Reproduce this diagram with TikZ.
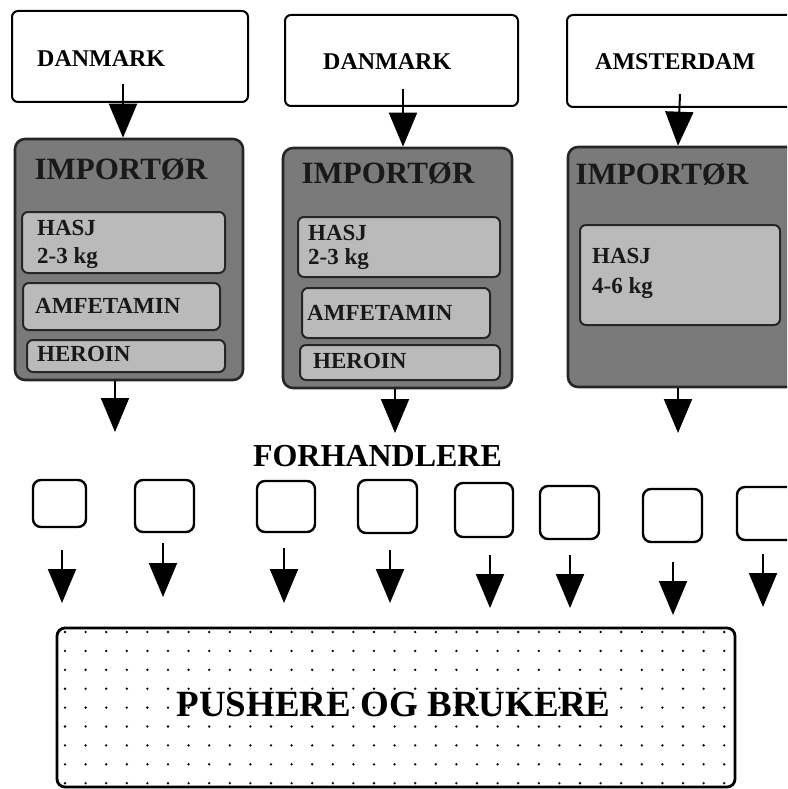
\documentclass[tikz,border=0pt]{standalone}
\usepackage{fontspec}
\setmainfont{Liberation Serif}
\usetikzlibrary{arrows.meta}
\begin{document}
\begin{tikzpicture}[x=1pt,y=-1pt,
  srcbox/.style={draw=black, line width=2pt, rounded corners=6pt, fill=white, inner sep=0pt},
  impbox/.style={draw=black!85, line width=2.6pt, rounded corners=10pt, fill=black!52, inner sep=0pt},
  drugbox/.style={draw=black!85, line width=2pt, rounded corners=6pt, fill=black!27, inner sep=0pt},
  dealer/.style={draw=black, line width=2.4pt, rounded corners=8pt, fill=white, inner sep=0pt},
  bigbox/.style={draw=black, line width=2.8pt, rounded corners=8pt, inner sep=0pt},
  arr/.style={line width=2pt, -{Triangle[width=28pt,length=34pt]}},
  srctxt/.style={font=\bfseries\fontsize{24}{26}\selectfont, inner sep=0pt},
  imptxt/.style={font=\bfseries\fontsize{31}{33}\selectfont, inner sep=0pt, text=black!90},
  drugtxt/.style={font=\bfseries\fontsize{23}{25}\selectfont, inner sep=0pt, text=black!90},
  headtxt/.style={font=\bfseries\fontsize{32}{34}\selectfont, inner sep=0pt},
  bottxt/.style={font=\bfseries\fontsize{37}{40}\selectfont, inner sep=0pt},
  dot/.style={fill=black, draw=none}
]
\useasboundingbox (0,0) rectangle (787,789);
\clip (0,0) rectangle (787,789);

% source boxes
\node[srcbox, minimum width=236pt, minimum height=91pt] (top1) at (130,56.5) {};
\node[srcbox, minimum width=233pt, minimum height=91pt] (top2) at (401.5,60.5) {};
\node[srcbox, minimum width=263pt, minimum height=92pt] (top3) at (698.5,61) {};
\node[srctxt, anchor=west] (t1) at (37,59) {DANMARK};
\node[srctxt, anchor=west] (t2) at (323,62) {DANMARK};
\node[srctxt, anchor=west] (t3) at (595,62) {AMSTERDAM};

% importers
\node[impbox, minimum width=228pt, minimum height=241pt] (imp1) at (129,259.5) {};
\node[impbox, minimum width=229pt, minimum height=240pt] (imp2) at (397.5,268) {};
\node[impbox, minimum width=262pt, minimum height=240pt] (imp3) at (699,267) {};
\node[imptxt] (i1) at (121,169) {IMPORTØR};
\node[imptxt] (i2) at (388,173) {IMPORTØR};
\node[imptxt] (i3) at (662,174) {IMPORTØR};

% drug boxes importer 1
\node[drugbox, minimum width=203pt, minimum height=61pt] (h1) at (123.5,242.5) {};
\node[drugbox, minimum width=197pt, minimum height=47pt] (a1) at (121.5,306.5) {};
\node[drugbox, minimum width=198pt, minimum height=32pt] (r1) at (126,356) {};
\node[drugtxt, anchor=base west] (h1a) at (37,235) {HASJ};
\node[drugtxt, anchor=base west] (h1b) at (37,263) {2-3 kg};
\node[drugtxt, anchor=west] (a1t) at (35,306) {AMFETAMIN};
\node[drugtxt, anchor=west] (r1t) at (37,354) {HEROIN};

% drug boxes importer 2
\node[drugbox, minimum width=202pt, minimum height=60pt] (h2) at (399,247) {};
\node[drugbox, minimum width=188pt, minimum height=50pt] (a2) at (396,313) {};
\node[drugbox, minimum width=200pt, minimum height=35pt] (r2) at (400,362.5) {};
\node[drugtxt, anchor=base west] (h2a) at (308,240) {HASJ};
\node[drugtxt, anchor=base west] (h2b) at (308,264) {2-3 kg};
\node[drugtxt, anchor=west] (a2t) at (307,313) {AMFETAMIN};
\node[drugtxt, anchor=west] (r2t) at (313,361) {HEROIN};

% drug box importer 3
\node[drugbox, minimum width=200pt, minimum height=100pt] (h3) at (680,275) {};
\node[drugtxt, anchor=base west] (h3a) at (592,263) {HASJ};
\node[drugtxt, anchor=base west] (h3b) at (592,293) {4-6 kg};

% arrows source -> importer
\draw[arr] ([xshift=-7pt,yshift=19pt]top1.south) -- ([xshift=-6pt]imp1.north);
\draw[arr] ([xshift=1.5pt,yshift=18pt]top2.south) -- ([xshift=5.5pt]imp2.north);
\draw[arr] ([xshift=-18.5pt,yshift=14pt]top3.south) -- ([xshift=-21pt]imp3.north);

% arrows importer -> dealers
\coordinate (e1) at (115,432);
\coordinate (e2) at (395,433);
\coordinate (e3) at (678,433);
\draw[arr] ([xshift=-14pt]imp1.south) -- (e1);
\draw[arr] ([xshift=-2.5pt]imp2.south) -- (e2);
\draw[arr] ([xshift=-21pt]imp3.south) -- (e3);

\node[headtxt] (fh) at (377.5,456) {FORHANDLERE};

% dealer boxes
\node[dealer, minimum width=53pt, minimum height=47pt] (f1) at (59.5,503.5) {};
\node[dealer, minimum width=59pt, minimum height=52pt] (f2) at (164.5,506) {};
\node[dealer, minimum width=58pt, minimum height=51pt] (f3) at (286,506.5) {};
\node[dealer, minimum width=59pt, minimum height=53pt] (f4) at (387.5,506.5) {};
\node[dealer, minimum width=58pt, minimum height=54pt] (f5) at (484,510) {};
\node[dealer, minimum width=59pt, minimum height=53pt] (f6) at (569.5,512.5) {};
\node[dealer, minimum width=59pt, minimum height=53pt] (f7) at (672.5,515.5) {};
\node[dealer, minimum width=59pt, minimum height=53pt] (f8) at (766.5,513.5) {};

% dealer arrows
\foreach \n/\x/\ya/\yb in {1/62/550/603, 2/163/543/597, 3/284/548/603, 4/390/550/603,
                          5/490/555/608, 6/570/555/608, 7/673/562/615, 8/763/554/607} {
  \coordinate (s\n) at (\x,\ya);
  \coordinate (d\n) at (\x,\yb);
  \draw[arr] (s\n) -- (d\n);
}

% bottom box
\node[bigbox, minimum width=678pt, minimum height=159pt] (bot) at (396,707.5) {};
\begin{scope}
  \clip[rounded corners=8pt] (bot.south west) rectangle (bot.north east);
  \foreach \i in {0,...,32} {
    \foreach \j in {0,...,8} {
      \fill[dot] ({65+20.6*\i},{632+18.9*\j}) circle (1.3pt);
    }
  }
\end{scope}
\node[bottxt] (bt) at (393.5,704.5) {PUSHERE OG BRUKERE};
\end{tikzpicture}
\end{document}
